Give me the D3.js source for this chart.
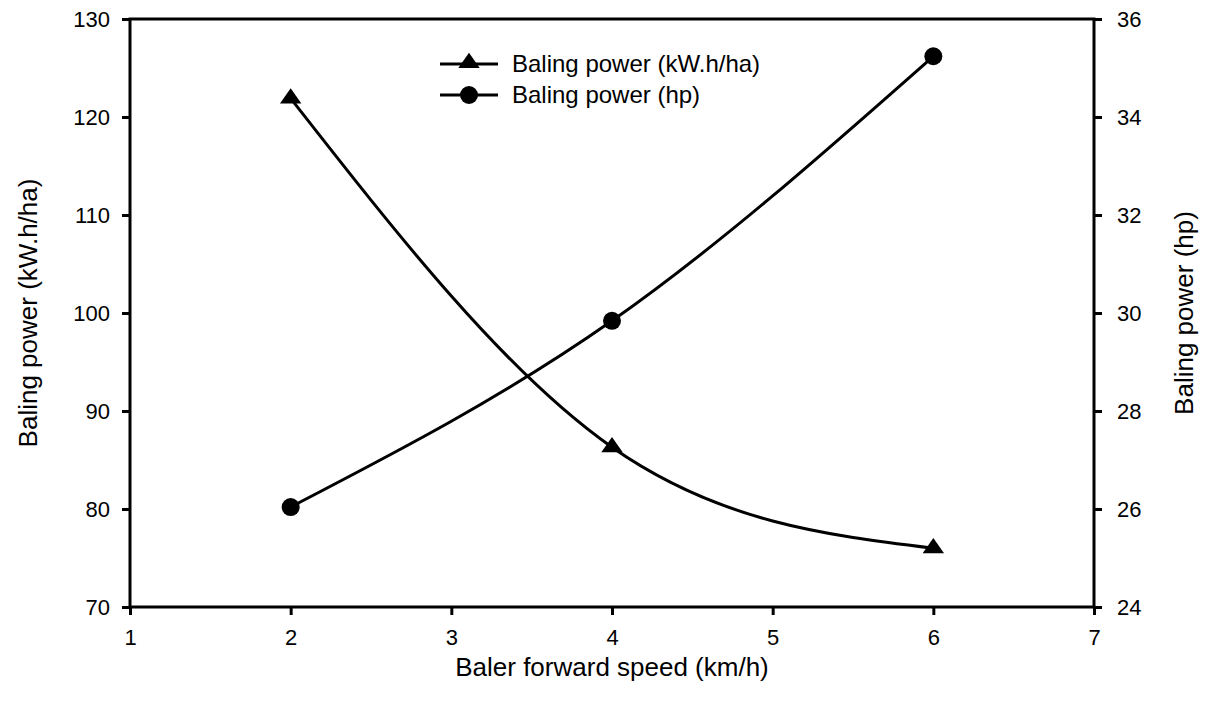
<!DOCTYPE html>
<html>
<head>
<meta charset="utf-8">
<script src="https://cdn.jsdelivr.net/npm/d3@7"></script>
<style>
  body { margin: 0; background: #fff; }
  text { font-family: "Liberation Sans", Arial, sans-serif; fill: #000; }
</style>
</head>
<body>
<script>
// values
const speeds = [2, 4, 6];
const powerKwh = [121.9, 86.3, 76.0];
const powerHp = [26.04, 29.84, 35.24];

const xTicks = [1, 2, 3, 4, 5, 6, 7];
const yLeftTicks = [70, 80, 90, 100, 110, 120, 130];
const yRightTicks = [24, 26, 28, 30, 32, 34, 36];

const legendLabels = ["Baling power (kW.h/ha)", "Baling power (hp)"];

const W = 1208, H = 708;
const plotL = 130, plotR = 1094, plotT = 19, plotB = 607;

const svg = d3.select("body").append("svg")
  .attr("width", W)
  .attr("height", H);

const x = d3.scaleLinear().domain([1, 7]).range([plotL, plotR]);
const yL = d3.scaleLinear().domain([70, 130]).range([plotB, plotT]);
const yR = d3.scaleLinear().domain([24, 36]).range([plotB, plotT]);

// axes
const axisStyle = (g) => {
  g.select(".domain").remove();
  g.selectAll(".tick line").attr("stroke", "#000").attr("stroke-width", 3);
  g.selectAll(".tick text").style("font-size", "22px").attr("fill", "#000");
};

svg.append("g")
  .attr("transform", `translate(0,${plotB})`)
  .call(d3.axisBottom(x).tickValues(xTicks).tickSize(8).tickPadding(14).tickFormat(d3.format("d")))
  .call(axisStyle);

svg.append("g")
  .attr("transform", `translate(${plotL},0)`)
  .call(d3.axisLeft(yL).tickValues(yLeftTicks).tickSize(8).tickPadding(12).tickFormat(d3.format("d")))
  .call(axisStyle);

svg.append("g")
  .attr("transform", `translate(${plotR},0)`)
  .call(d3.axisRight(yR).tickValues(yRightTicks).tickSize(8).tickPadding(15).tickFormat(d3.format("d")))
  .call(axisStyle);

// frame
svg.append("rect")
  .attr("x", plotL).attr("y", plotT)
  .attr("width", plotR - plotL).attr("height", plotB - plotT)
  .attr("fill", "none")
  .attr("stroke", "#000")
  .attr("stroke-width", 3);

// data lines
const kwData = speeds.map((s, i) => ({ s, v: powerKwh[i] }));
const hpData = speeds.map((s, i) => ({ s, v: powerHp[i] }));

const lineL = d3.line().x(d => x(d.s)).y(d => yL(d.v)).curve(d3.curveNatural);
const lineR = d3.line().x(d => x(d.s)).y(d => yR(d.v)).curve(d3.curveNatural);

svg.append("path").datum(kwData)
  .attr("d", lineL)
  .attr("fill", "none").attr("stroke", "#000").attr("stroke-width", 3);

svg.append("path").datum(hpData)
  .attr("d", lineR)
  .attr("fill", "none").attr("stroke", "#000").attr("stroke-width", 3);

const tri = d3.symbol().type(d3.symbolTriangle).size(150);

svg.selectAll(".tri").data(kwData).join("path")
  .attr("class", "tri")
  .attr("d", tri)
  .attr("transform", d => `translate(${x(d.s)},${yL(d.v)}) scale(1.15,0.95)`)
  .attr("fill", "#000");

svg.selectAll(".dot").data(hpData).join("circle")
  .attr("class", "dot")
  .attr("cx", d => x(d.s))
  .attr("cy", d => yR(d.v))
  .attr("r", 9)
  .attr("fill", "#000");

// legend
const legend = svg.append("g").attr("transform", "translate(440,64)");
legendLabels.forEach((lab, i) => {
  const row = legend.append("g").attr("transform", `translate(0,${i * 31})`);
  row.append("line").attr("x1", 0).attr("x2", 58).attr("y1", 0).attr("y2", 0)
    .attr("stroke", "#000").attr("stroke-width", 3);
  if (i === 0) {
    row.append("path").attr("d", tri).attr("transform", "translate(29,-1) scale(1.15,0.95)").attr("fill", "#000");
  } else {
    row.append("circle").attr("cx", 29).attr("cy", 0).attr("r", 9).attr("fill", "#000");
  }
  row.append("text").attr("x", 72).attr("y", 0).attr("dy", "0.35em")
    .style("font-size", "24px").text(lab);
});

// axis titles
svg.append("text")
  .attr("x", (plotL + plotR) / 2).attr("y", 667)
  .attr("text-anchor", "middle").attr("dy", "0.35em")
  .style("font-size", "26px")
  .text("Baler forward speed (km/h)");

svg.append("text")
  .attr("transform", `translate(28,${(plotT + plotB) / 2}) rotate(-90)`)
  .attr("text-anchor", "middle").attr("dy", "0.35em")
  .style("font-size", "26px")
  .text("Baling power (kW.h/ha)");

svg.append("text")
  .attr("transform", `translate(1184,${(plotT + plotB) / 2}) rotate(-90)`)
  .attr("text-anchor", "middle").attr("dy", "0.35em")
  .style("font-size", "26px")
  .text("Baling power (hp)");
</script>
</body>
</html>
